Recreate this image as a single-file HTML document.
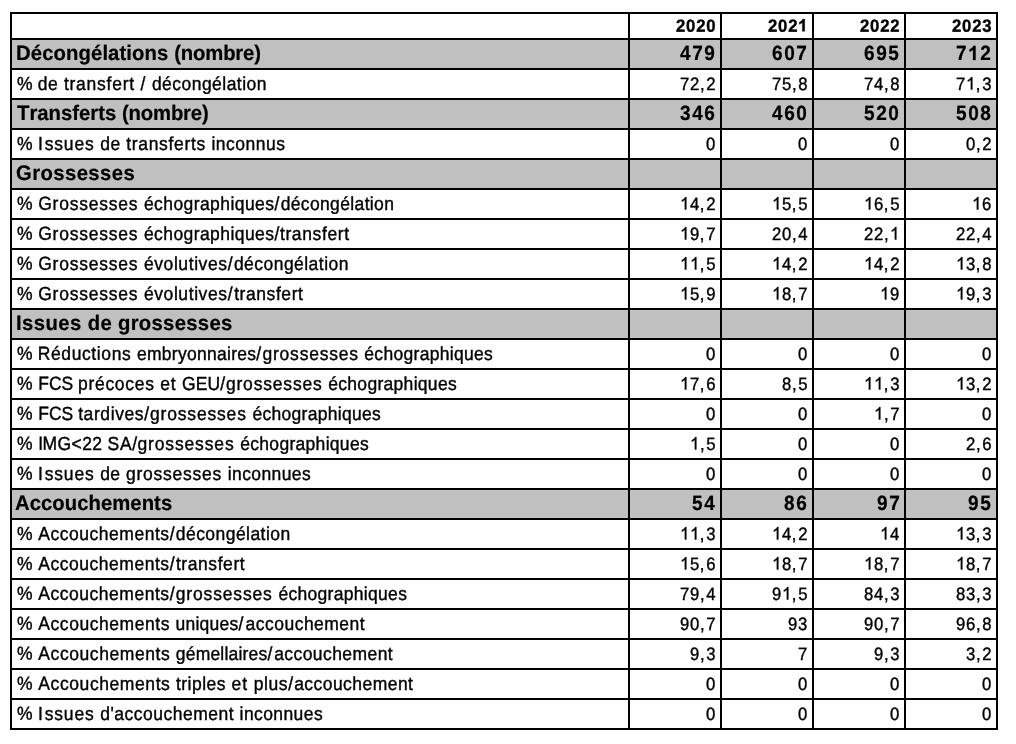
<!DOCTYPE html>
<html lang="fr"><head><meta charset="utf-8"><title>Tableau</title>
<style>
html,body{margin:0;padding:0;background:#fff;}
body{width:1016px;height:744px;position:relative;overflow:hidden;font-family:"Liberation Sans",sans-serif;color:#000;font-kerning:none;font-variant-ligatures:none;text-rendering:geometricPrecision;}
#t{will-change:transform;position:absolute;left:10px;top:12px;width:988px;height:718px;background:#000;}
.c{position:absolute;background:#fff;white-space:nowrap;overflow:hidden;}
.g{background:#c0c0c0;}
.c>span{position:absolute;top:0;display:block;white-space:nowrap;transform-origin:50% 50%;}
.l>span{left:0;}
.r>span{right:0;}
.n{font-size:16.7px;-webkit-text-stroke:0.37px #000;}
.b{font-size:20.3px;font-weight:bold;-webkit-text-stroke:0.2px #000;}
.h{font-size:16.7px;font-weight:bold;-webkit-text-stroke:0.35px #000;}
.n>span{transform:translateY(0.6px) scaleY(1.075) skewY(0.03deg);}
.b>span{transform:translateY(-0.2px) scaleY(1.034) skewY(0.03deg);}
.h>span{transform:translateY(0.5px) scaleY(1.06) skewY(0.03deg);}
.n.r>span{letter-spacing:0.65px;}
.n.l>span{font-size:17.5px;transform:translateY(-0.5px) scaleY(1.076) skewY(0.03deg);}
.b.r>span{letter-spacing:1.6px;font-size:19.0px;transform:translateY(0.5px) scaleY(1.085) skewY(0.03deg);}
.h.r>span{letter-spacing:0.84px;}
i{font-style:normal;}
svg.o{display:inline-block;vertical-align:baseline;overflow:visible;}
svg.o path{fill:#000;stroke:#000;vector-effect:non-scaling-stroke;}
</style></head><body>
<div id="t">
<div class="c h l" style="left:2px;top:2px;width:616px;height:24px;line-height:24px"></div>
<div class="c h r" style="left:620px;top:2px;width:90px;height:24px;line-height:24px"><span style="right:3.65px">2020</span></div>
<div class="c h r" style="left:712px;top:2px;width:90px;height:24px;line-height:24px"><span style="right:3.65px">202<svg class="o" width="9.288" height="11.535" viewBox="0 0 1116.7 1472" preserveAspectRatio="none" style="margin-right:0.840px"><path transform="matrix(1 0 0 -1 0 1472)" d="M806 0h-281v1059q-154 -144 -363 -213v255q110 36 239 136.5t177 234.5h228v-1472z" stroke-width="0.35"/></svg></span></div>
<div class="c h r" style="left:804px;top:2px;width:90px;height:24px;line-height:24px"><span style="right:3.67px">2022</span></div>
<div class="c h r" style="left:896px;top:2px;width:90px;height:24px;line-height:24px"><span style="right:3.73px">2023</span></div>
<div class="c b l g" style="left:2px;top:28px;width:616px;height:28px;line-height:28px"><span style="left:3.74px"><i style="letter-spacing:0.104px">Décongélations </i><i style="letter-spacing:-0.163px">(nombre)</i></span></div>
<div class="c b r g" style="left:620px;top:28px;width:90px;height:28px;line-height:28px"><span style="right:3.19px">479</span></div>
<div class="c b r g" style="left:712px;top:28px;width:90px;height:28px;line-height:28px"><span style="right:3.07px">607</span></div>
<div class="c b r g" style="left:804px;top:28px;width:90px;height:28px;line-height:28px"><span style="right:3.37px">695</span></div>
<div class="c b r g" style="left:896px;top:28px;width:90px;height:28px;line-height:28px"><span style="right:3.14px">7<svg class="o" width="10.567" height="13.124" viewBox="0 0 1116.7 1472" preserveAspectRatio="none" style="margin-right:1.600px"><path transform="matrix(1 0 0 -1 0 1472)" d="M806 0h-281v1059q-154 -144 -363 -213v255q110 36 239 136.5t177 234.5h228v-1472z" stroke-width="0.2"/></svg>2</span></div>
<div class="c n l" style="left:2px;top:58px;width:616px;height:28px;line-height:28px"><span style="left:5.06px"><i style="letter-spacing:0.108px">% </i><i style="letter-spacing:0.631px">de </i><i style="letter-spacing:0.761px">transfert </i><i style="letter-spacing:0.821px">/ </i><i style="letter-spacing:0.460px">décongélation</i></span></div>
<div class="c n r" style="left:620px;top:58px;width:90px;height:28px;line-height:28px"><span style="right:3.70px">72<i style="letter-spacing:1.65px">,</i>2</span></div>
<div class="c n r" style="left:712px;top:58px;width:90px;height:28px;line-height:28px"><span style="right:3.81px">75<i style="letter-spacing:1.65px">,</i>8</span></div>
<div class="c n r" style="left:804px;top:58px;width:90px;height:28px;line-height:28px"><span style="right:3.81px">74<i style="letter-spacing:1.65px">,</i>8</span></div>
<div class="c n r" style="left:896px;top:58px;width:90px;height:28px;line-height:28px"><span style="right:3.80px">7<svg class="o" width="9.288" height="11.535" viewBox="0 0 1116.7 1472" preserveAspectRatio="none" style="margin-right:0.650px"><path transform="matrix(1 0 0 -1 0 1472)" d="M763 0h-180v1147q-65 -62 -170.5 -124t-189.5 -93v174q151 71 264 172t160 196h116v-1472z" stroke-width="0.37"/></svg><i style="letter-spacing:1.65px">,</i>3</span></div>
<div class="c b l g" style="left:2px;top:88px;width:616px;height:28px;line-height:28px"><span style="left:4.87px"><i style="letter-spacing:0.004px">Transferts </i><i style="letter-spacing:-0.141px">(nombre)</i></span></div>
<div class="c b r g" style="left:620px;top:88px;width:90px;height:28px;line-height:28px"><span style="right:3.21px">346</span></div>
<div class="c b r g" style="left:712px;top:88px;width:90px;height:28px;line-height:28px"><span style="right:3.12px">460</span></div>
<div class="c b r g" style="left:804px;top:88px;width:90px;height:28px;line-height:28px"><span style="right:3.12px">520</span></div>
<div class="c b r g" style="left:896px;top:88px;width:90px;height:28px;line-height:28px"><span style="right:3.32px">508</span></div>
<div class="c n l" style="left:2px;top:118px;width:616px;height:28px;line-height:28px"><span style="left:5.06px"><i style="letter-spacing:0.343px">% </i><i style="letter-spacing:1.766px">I</i><i style="letter-spacing:0.804px">ssues </i><i style="letter-spacing:0.598px">de </i><i style="letter-spacing:0.672px">transferts </i><i style="letter-spacing:0.483px">inconnus</i></span></div>
<div class="c n r" style="left:620px;top:118px;width:90px;height:28px;line-height:28px"><span style="right:3.88px">0</span></div>
<div class="c n r" style="left:712px;top:118px;width:90px;height:28px;line-height:28px"><span style="right:3.88px">0</span></div>
<div class="c n r" style="left:804px;top:118px;width:90px;height:28px;line-height:28px"><span style="right:3.88px">0</span></div>
<div class="c n r" style="left:896px;top:118px;width:90px;height:28px;line-height:28px"><span style="right:3.70px">0<i style="letter-spacing:1.65px">,</i>2</span></div>
<div class="c b l g" style="left:2px;top:148px;width:616px;height:28px;line-height:28px"><span style="left:4.27px"><i style="letter-spacing:0.405px">Grossesses</i></span></div>
<div class="c b r g" style="left:620px;top:148px;width:90px;height:28px;line-height:28px"></div>
<div class="c b r g" style="left:712px;top:148px;width:90px;height:28px;line-height:28px"></div>
<div class="c b r g" style="left:804px;top:148px;width:90px;height:28px;line-height:28px"></div>
<div class="c b r g" style="left:896px;top:148px;width:90px;height:28px;line-height:28px"></div>
<div class="c n l" style="left:2px;top:178px;width:616px;height:28px;line-height:28px"><span style="left:5.06px"><i style="letter-spacing:0.411px">% </i><i style="letter-spacing:0.762px">Grossesses </i><i style="letter-spacing:0.425px">échographiques</i><i style="letter-spacing:1.403px">/</i><i style="letter-spacing:0.356px">décongélation</i></span></div>
<div class="c n r" style="left:620px;top:178px;width:90px;height:28px;line-height:28px"><span style="right:3.70px"><svg class="o" width="9.288" height="11.535" viewBox="0 0 1116.7 1472" preserveAspectRatio="none" style="margin-right:0.650px"><path transform="matrix(1 0 0 -1 0 1472)" d="M763 0h-180v1147q-65 -62 -170.5 -124t-189.5 -93v174q151 71 264 172t160 196h116v-1472z" stroke-width="0.37"/></svg>4<i style="letter-spacing:1.65px">,</i>2</span></div>
<div class="c n r" style="left:712px;top:178px;width:90px;height:28px;line-height:28px"><span style="right:3.83px"><svg class="o" width="9.288" height="11.535" viewBox="0 0 1116.7 1472" preserveAspectRatio="none" style="margin-right:0.650px"><path transform="matrix(1 0 0 -1 0 1472)" d="M763 0h-180v1147q-65 -62 -170.5 -124t-189.5 -93v174q151 71 264 172t160 196h116v-1472z" stroke-width="0.37"/></svg>5<i style="letter-spacing:1.65px">,</i>5</span></div>
<div class="c n r" style="left:804px;top:178px;width:90px;height:28px;line-height:28px"><span style="right:3.83px"><svg class="o" width="9.288" height="11.535" viewBox="0 0 1116.7 1472" preserveAspectRatio="none" style="margin-right:0.650px"><path transform="matrix(1 0 0 -1 0 1472)" d="M763 0h-180v1147q-65 -62 -170.5 -124t-189.5 -93v174q151 71 264 172t160 196h116v-1472z" stroke-width="0.37"/></svg>6<i style="letter-spacing:1.65px">,</i>5</span></div>
<div class="c n r" style="left:896px;top:178px;width:90px;height:28px;line-height:28px"><span style="right:3.80px"><svg class="o" width="9.288" height="11.535" viewBox="0 0 1116.7 1472" preserveAspectRatio="none" style="margin-right:0.650px"><path transform="matrix(1 0 0 -1 0 1472)" d="M763 0h-180v1147q-65 -62 -170.5 -124t-189.5 -93v174q151 71 264 172t160 196h116v-1472z" stroke-width="0.37"/></svg>6</span></div>
<div class="c n l" style="left:2px;top:208px;width:616px;height:28px;line-height:28px"><span style="left:5.06px"><i style="letter-spacing:0.411px">% </i><i style="letter-spacing:0.762px">Grossesses </i><i style="letter-spacing:0.425px">échographiques</i><i style="letter-spacing:0.623px">/</i><i style="letter-spacing:0.635px">transfert</i></span></div>
<div class="c n r" style="left:620px;top:208px;width:90px;height:28px;line-height:28px"><span style="right:3.70px"><svg class="o" width="9.288" height="11.535" viewBox="0 0 1116.7 1472" preserveAspectRatio="none" style="margin-right:0.650px"><path transform="matrix(1 0 0 -1 0 1472)" d="M763 0h-180v1147q-65 -62 -170.5 -124t-189.5 -93v174q151 71 264 172t160 196h116v-1472z" stroke-width="0.37"/></svg>9<i style="letter-spacing:1.65px">,</i>7</span></div>
<div class="c n r" style="left:712px;top:208px;width:90px;height:28px;line-height:28px"><span style="right:4.05px">20<i style="letter-spacing:1.65px">,</i>4</span></div>
<div class="c n r" style="left:804px;top:208px;width:90px;height:28px;line-height:28px"><span style="right:3.88px">22<i style="letter-spacing:1.65px">,</i><svg class="o" width="9.288" height="11.535" viewBox="0 0 1116.7 1472" preserveAspectRatio="none" style="margin-right:0.650px"><path transform="matrix(1 0 0 -1 0 1472)" d="M763 0h-180v1147q-65 -62 -170.5 -124t-189.5 -93v174q151 71 264 172t160 196h116v-1472z" stroke-width="0.37"/></svg></span></div>
<div class="c n r" style="left:896px;top:208px;width:90px;height:28px;line-height:28px"><span style="right:4.05px">22<i style="letter-spacing:1.65px">,</i>4</span></div>
<div class="c n l" style="left:2px;top:238px;width:616px;height:28px;line-height:28px"><span style="left:5.06px"><i style="letter-spacing:0.411px">% </i><i style="letter-spacing:0.762px">Grossesses </i><i style="letter-spacing:0.592px">évolutives</i><i style="letter-spacing:1.403px">/</i><i style="letter-spacing:0.460px">décongélation</i></span></div>
<div class="c n r" style="left:620px;top:238px;width:90px;height:28px;line-height:28px"><span style="right:3.83px"><svg class="o" width="9.288" height="11.535" viewBox="0 0 1116.7 1472" preserveAspectRatio="none" style="margin-right:0.650px"><path transform="matrix(1 0 0 -1 0 1472)" d="M763 0h-180v1147q-65 -62 -170.5 -124t-189.5 -93v174q151 71 264 172t160 196h116v-1472z" stroke-width="0.37"/></svg><svg class="o" width="9.288" height="11.535" viewBox="0 0 1116.7 1472" preserveAspectRatio="none" style="margin-right:0.650px"><path transform="matrix(1 0 0 -1 0 1472)" d="M763 0h-180v1147q-65 -62 -170.5 -124t-189.5 -93v174q151 71 264 172t160 196h116v-1472z" stroke-width="0.37"/></svg><i style="letter-spacing:1.65px">,</i>5</span></div>
<div class="c n r" style="left:712px;top:238px;width:90px;height:28px;line-height:28px"><span style="right:3.70px"><svg class="o" width="9.288" height="11.535" viewBox="0 0 1116.7 1472" preserveAspectRatio="none" style="margin-right:0.650px"><path transform="matrix(1 0 0 -1 0 1472)" d="M763 0h-180v1147q-65 -62 -170.5 -124t-189.5 -93v174q151 71 264 172t160 196h116v-1472z" stroke-width="0.37"/></svg>4<i style="letter-spacing:1.65px">,</i>2</span></div>
<div class="c n r" style="left:804px;top:238px;width:90px;height:28px;line-height:28px"><span style="right:3.70px"><svg class="o" width="9.288" height="11.535" viewBox="0 0 1116.7 1472" preserveAspectRatio="none" style="margin-right:0.650px"><path transform="matrix(1 0 0 -1 0 1472)" d="M763 0h-180v1147q-65 -62 -170.5 -124t-189.5 -93v174q151 71 264 172t160 196h116v-1472z" stroke-width="0.37"/></svg>4<i style="letter-spacing:1.65px">,</i>2</span></div>
<div class="c n r" style="left:896px;top:238px;width:90px;height:28px;line-height:28px"><span style="right:3.81px"><svg class="o" width="9.288" height="11.535" viewBox="0 0 1116.7 1472" preserveAspectRatio="none" style="margin-right:0.650px"><path transform="matrix(1 0 0 -1 0 1472)" d="M763 0h-180v1147q-65 -62 -170.5 -124t-189.5 -93v174q151 71 264 172t160 196h116v-1472z" stroke-width="0.37"/></svg>3<i style="letter-spacing:1.65px">,</i>8</span></div>
<div class="c n l" style="left:2px;top:268px;width:616px;height:28px;line-height:28px"><span style="left:5.06px"><i style="letter-spacing:0.411px">% </i><i style="letter-spacing:0.762px">Grossesses </i><i style="letter-spacing:0.592px">évolutives</i><i style="letter-spacing:1.623px">/</i><i style="letter-spacing:0.573px">transfert</i></span></div>
<div class="c n r" style="left:620px;top:268px;width:90px;height:28px;line-height:28px"><span style="right:3.74px"><svg class="o" width="9.288" height="11.535" viewBox="0 0 1116.7 1472" preserveAspectRatio="none" style="margin-right:0.650px"><path transform="matrix(1 0 0 -1 0 1472)" d="M763 0h-180v1147q-65 -62 -170.5 -124t-189.5 -93v174q151 71 264 172t160 196h116v-1472z" stroke-width="0.37"/></svg>5<i style="letter-spacing:1.65px">,</i>9</span></div>
<div class="c n r" style="left:712px;top:268px;width:90px;height:28px;line-height:28px"><span style="right:3.70px"><svg class="o" width="9.288" height="11.535" viewBox="0 0 1116.7 1472" preserveAspectRatio="none" style="margin-right:0.650px"><path transform="matrix(1 0 0 -1 0 1472)" d="M763 0h-180v1147q-65 -62 -170.5 -124t-189.5 -93v174q151 71 264 172t160 196h116v-1472z" stroke-width="0.37"/></svg>8<i style="letter-spacing:1.65px">,</i>7</span></div>
<div class="c n r" style="left:804px;top:268px;width:90px;height:28px;line-height:28px"><span style="right:3.74px"><svg class="o" width="9.288" height="11.535" viewBox="0 0 1116.7 1472" preserveAspectRatio="none" style="margin-right:0.650px"><path transform="matrix(1 0 0 -1 0 1472)" d="M763 0h-180v1147q-65 -62 -170.5 -124t-189.5 -93v174q151 71 264 172t160 196h116v-1472z" stroke-width="0.37"/></svg>9</span></div>
<div class="c n r" style="left:896px;top:268px;width:90px;height:28px;line-height:28px"><span style="right:3.80px"><svg class="o" width="9.288" height="11.535" viewBox="0 0 1116.7 1472" preserveAspectRatio="none" style="margin-right:0.650px"><path transform="matrix(1 0 0 -1 0 1472)" d="M763 0h-180v1147q-65 -62 -170.5 -124t-189.5 -93v174q151 71 264 172t160 196h116v-1472z" stroke-width="0.37"/></svg>9<i style="letter-spacing:1.65px">,</i>3</span></div>
<div class="c b l g" style="left:2px;top:298px;width:616px;height:28px;line-height:28px"><span style="left:4.24px"><i style="letter-spacing:0.419px">Issues </i><i style="letter-spacing:0.307px">de </i><i style="letter-spacing:0.304px">grossesses</i></span></div>
<div class="c b r g" style="left:620px;top:298px;width:90px;height:28px;line-height:28px"></div>
<div class="c b r g" style="left:712px;top:298px;width:90px;height:28px;line-height:28px"></div>
<div class="c b r g" style="left:804px;top:298px;width:90px;height:28px;line-height:28px"></div>
<div class="c b r g" style="left:896px;top:298px;width:90px;height:28px;line-height:28px"></div>
<div class="c n l" style="left:2px;top:328px;width:616px;height:28px;line-height:28px"><span style="left:5.06px"><i style="letter-spacing:0.133px">% </i><i style="letter-spacing:0.616px">Réductions </i><i style="letter-spacing:0.284px">embryonnaires</i><i style="letter-spacing:1.303px">/</i><i style="letter-spacing:0.766px">grossesses </i><i style="letter-spacing:0.305px">échographiques</i></span></div>
<div class="c n r" style="left:620px;top:328px;width:90px;height:28px;line-height:28px"><span style="right:3.88px">0</span></div>
<div class="c n r" style="left:712px;top:328px;width:90px;height:28px;line-height:28px"><span style="right:3.88px">0</span></div>
<div class="c n r" style="left:804px;top:328px;width:90px;height:28px;line-height:28px"><span style="right:3.88px">0</span></div>
<div class="c n r" style="left:896px;top:328px;width:90px;height:28px;line-height:28px"><span style="right:3.88px">0</span></div>
<div class="c n l" style="left:2px;top:358px;width:616px;height:28px;line-height:28px"><span style="left:5.06px"><i style="letter-spacing:0.383px">% </i><i style="letter-spacing:-0.014px">FCS </i><i style="letter-spacing:0.696px">précoces </i><i style="letter-spacing:0.802px">et </i><i style="letter-spacing:0.069px">GEU</i><i style="letter-spacing:0.903px">/</i><i style="letter-spacing:0.811px">grossesses </i><i style="letter-spacing:0.301px">échographiques</i></span></div>
<div class="c n r" style="left:620px;top:358px;width:90px;height:28px;line-height:28px"><span style="right:3.80px"><svg class="o" width="9.288" height="11.535" viewBox="0 0 1116.7 1472" preserveAspectRatio="none" style="margin-right:0.650px"><path transform="matrix(1 0 0 -1 0 1472)" d="M763 0h-180v1147q-65 -62 -170.5 -124t-189.5 -93v174q151 71 264 172t160 196h116v-1472z" stroke-width="0.37"/></svg>7<i style="letter-spacing:1.65px">,</i>6</span></div>
<div class="c n r" style="left:712px;top:358px;width:90px;height:28px;line-height:28px"><span style="right:3.83px">8<i style="letter-spacing:1.65px">,</i>5</span></div>
<div class="c n r" style="left:804px;top:358px;width:90px;height:28px;line-height:28px"><span style="right:3.80px"><svg class="o" width="9.288" height="11.535" viewBox="0 0 1116.7 1472" preserveAspectRatio="none" style="margin-right:0.650px"><path transform="matrix(1 0 0 -1 0 1472)" d="M763 0h-180v1147q-65 -62 -170.5 -124t-189.5 -93v174q151 71 264 172t160 196h116v-1472z" stroke-width="0.37"/></svg><svg class="o" width="9.288" height="11.535" viewBox="0 0 1116.7 1472" preserveAspectRatio="none" style="margin-right:0.650px"><path transform="matrix(1 0 0 -1 0 1472)" d="M763 0h-180v1147q-65 -62 -170.5 -124t-189.5 -93v174q151 71 264 172t160 196h116v-1472z" stroke-width="0.37"/></svg><i style="letter-spacing:1.65px">,</i>3</span></div>
<div class="c n r" style="left:896px;top:358px;width:90px;height:28px;line-height:28px"><span style="right:3.70px"><svg class="o" width="9.288" height="11.535" viewBox="0 0 1116.7 1472" preserveAspectRatio="none" style="margin-right:0.650px"><path transform="matrix(1 0 0 -1 0 1472)" d="M763 0h-180v1147q-65 -62 -170.5 -124t-189.5 -93v174q151 71 264 172t160 196h116v-1472z" stroke-width="0.37"/></svg>3<i style="letter-spacing:1.65px">,</i>2</span></div>
<div class="c n l" style="left:2px;top:388px;width:616px;height:28px;line-height:28px"><span style="left:5.06px"><i style="letter-spacing:0.383px">% </i><i style="letter-spacing:0.015px">FCS </i><i style="letter-spacing:0.592px">tardives</i><i style="letter-spacing:1.003px">/</i><i style="letter-spacing:0.820px">grossesses </i><i style="letter-spacing:0.286px">échographiques</i></span></div>
<div class="c n r" style="left:620px;top:388px;width:90px;height:28px;line-height:28px"><span style="right:3.88px">0</span></div>
<div class="c n r" style="left:712px;top:388px;width:90px;height:28px;line-height:28px"><span style="right:3.88px">0</span></div>
<div class="c n r" style="left:804px;top:388px;width:90px;height:28px;line-height:28px"><span style="right:3.70px"><svg class="o" width="9.288" height="11.535" viewBox="0 0 1116.7 1472" preserveAspectRatio="none" style="margin-right:0.650px"><path transform="matrix(1 0 0 -1 0 1472)" d="M763 0h-180v1147q-65 -62 -170.5 -124t-189.5 -93v174q151 71 264 172t160 196h116v-1472z" stroke-width="0.37"/></svg><i style="letter-spacing:1.65px">,</i>7</span></div>
<div class="c n r" style="left:896px;top:388px;width:90px;height:28px;line-height:28px"><span style="right:3.88px">0</span></div>
<div class="c n l" style="left:2px;top:418px;width:616px;height:28px;line-height:28px"><span style="left:5.06px"><i style="letter-spacing:0.393px">% </i><i style="letter-spacing:-0.483px">I</i><i style="letter-spacing:0.376px">MG&lt;22 </i><i style="letter-spacing:0.600px">SA</i><i style="letter-spacing:0.403px">/</i><i style="letter-spacing:0.861px">grossesses </i><i style="letter-spacing:0.297px">échographiques</i></span></div>
<div class="c n r" style="left:620px;top:418px;width:90px;height:28px;line-height:28px"><span style="right:3.83px"><svg class="o" width="9.288" height="11.535" viewBox="0 0 1116.7 1472" preserveAspectRatio="none" style="margin-right:0.650px"><path transform="matrix(1 0 0 -1 0 1472)" d="M763 0h-180v1147q-65 -62 -170.5 -124t-189.5 -93v174q151 71 264 172t160 196h116v-1472z" stroke-width="0.37"/></svg><i style="letter-spacing:1.65px">,</i>5</span></div>
<div class="c n r" style="left:712px;top:418px;width:90px;height:28px;line-height:28px"><span style="right:3.88px">0</span></div>
<div class="c n r" style="left:804px;top:418px;width:90px;height:28px;line-height:28px"><span style="right:3.88px">0</span></div>
<div class="c n r" style="left:896px;top:418px;width:90px;height:28px;line-height:28px"><span style="right:3.80px">2<i style="letter-spacing:1.65px">,</i>6</span></div>
<div class="c n l" style="left:2px;top:448px;width:616px;height:28px;line-height:28px"><span style="left:5.06px"><i style="letter-spacing:0.343px">% </i><i style="letter-spacing:1.766px">I</i><i style="letter-spacing:0.804px">ssues </i><i style="letter-spacing:0.474px">de </i><i style="letter-spacing:0.768px">grossesses </i><i style="letter-spacing:0.394px">inconnues</i></span></div>
<div class="c n r" style="left:620px;top:448px;width:90px;height:28px;line-height:28px"><span style="right:3.88px">0</span></div>
<div class="c n r" style="left:712px;top:448px;width:90px;height:28px;line-height:28px"><span style="right:3.88px">0</span></div>
<div class="c n r" style="left:804px;top:448px;width:90px;height:28px;line-height:28px"><span style="right:3.88px">0</span></div>
<div class="c n r" style="left:896px;top:448px;width:90px;height:28px;line-height:28px"><span style="right:3.88px">0</span></div>
<div class="c b l g" style="left:2px;top:478px;width:616px;height:28px;line-height:28px"><span style="left:3.49px"><i style="letter-spacing:0.044px">Accouchements</i></span></div>
<div class="c b r g" style="left:620px;top:478px;width:90px;height:28px;line-height:28px"><span style="right:3.80px">54</span></div>
<div class="c b r g" style="left:712px;top:478px;width:90px;height:28px;line-height:28px"><span style="right:3.21px">86</span></div>
<div class="c b r g" style="left:804px;top:478px;width:90px;height:28px;line-height:28px"><span style="right:3.07px">97</span></div>
<div class="c b r g" style="left:896px;top:478px;width:90px;height:28px;line-height:28px"><span style="right:3.37px">95</span></div>
<div class="c n l" style="left:2px;top:508px;width:616px;height:28px;line-height:28px"><span style="left:5.06px"><i style="letter-spacing:0.459px">% </i><i style="letter-spacing:0.521px">Accouchements</i><i style="letter-spacing:1.303px">/</i><i style="letter-spacing:0.447px">décongélation</i></span></div>
<div class="c n r" style="left:620px;top:508px;width:90px;height:28px;line-height:28px"><span style="right:3.80px"><svg class="o" width="9.288" height="11.535" viewBox="0 0 1116.7 1472" preserveAspectRatio="none" style="margin-right:0.650px"><path transform="matrix(1 0 0 -1 0 1472)" d="M763 0h-180v1147q-65 -62 -170.5 -124t-189.5 -93v174q151 71 264 172t160 196h116v-1472z" stroke-width="0.37"/></svg><svg class="o" width="9.288" height="11.535" viewBox="0 0 1116.7 1472" preserveAspectRatio="none" style="margin-right:0.650px"><path transform="matrix(1 0 0 -1 0 1472)" d="M763 0h-180v1147q-65 -62 -170.5 -124t-189.5 -93v174q151 71 264 172t160 196h116v-1472z" stroke-width="0.37"/></svg><i style="letter-spacing:1.65px">,</i>3</span></div>
<div class="c n r" style="left:712px;top:508px;width:90px;height:28px;line-height:28px"><span style="right:3.70px"><svg class="o" width="9.288" height="11.535" viewBox="0 0 1116.7 1472" preserveAspectRatio="none" style="margin-right:0.650px"><path transform="matrix(1 0 0 -1 0 1472)" d="M763 0h-180v1147q-65 -62 -170.5 -124t-189.5 -93v174q151 71 264 172t160 196h116v-1472z" stroke-width="0.37"/></svg>4<i style="letter-spacing:1.65px">,</i>2</span></div>
<div class="c n r" style="left:804px;top:508px;width:90px;height:28px;line-height:28px"><span style="right:4.05px"><svg class="o" width="9.288" height="11.535" viewBox="0 0 1116.7 1472" preserveAspectRatio="none" style="margin-right:0.650px"><path transform="matrix(1 0 0 -1 0 1472)" d="M763 0h-180v1147q-65 -62 -170.5 -124t-189.5 -93v174q151 71 264 172t160 196h116v-1472z" stroke-width="0.37"/></svg>4</span></div>
<div class="c n r" style="left:896px;top:508px;width:90px;height:28px;line-height:28px"><span style="right:3.80px"><svg class="o" width="9.288" height="11.535" viewBox="0 0 1116.7 1472" preserveAspectRatio="none" style="margin-right:0.650px"><path transform="matrix(1 0 0 -1 0 1472)" d="M763 0h-180v1147q-65 -62 -170.5 -124t-189.5 -93v174q151 71 264 172t160 196h116v-1472z" stroke-width="0.37"/></svg>3<i style="letter-spacing:1.65px">,</i>3</span></div>
<div class="c n l" style="left:2px;top:538px;width:616px;height:28px;line-height:28px"><span style="left:5.06px"><i style="letter-spacing:0.459px">% </i><i style="letter-spacing:0.521px">Accouchements</i><i style="letter-spacing:1.373px">/</i><i style="letter-spacing:0.579px">transfert</i></span></div>
<div class="c n r" style="left:620px;top:538px;width:90px;height:28px;line-height:28px"><span style="right:3.80px"><svg class="o" width="9.288" height="11.535" viewBox="0 0 1116.7 1472" preserveAspectRatio="none" style="margin-right:0.650px"><path transform="matrix(1 0 0 -1 0 1472)" d="M763 0h-180v1147q-65 -62 -170.5 -124t-189.5 -93v174q151 71 264 172t160 196h116v-1472z" stroke-width="0.37"/></svg>5<i style="letter-spacing:1.65px">,</i>6</span></div>
<div class="c n r" style="left:712px;top:538px;width:90px;height:28px;line-height:28px"><span style="right:3.70px"><svg class="o" width="9.288" height="11.535" viewBox="0 0 1116.7 1472" preserveAspectRatio="none" style="margin-right:0.650px"><path transform="matrix(1 0 0 -1 0 1472)" d="M763 0h-180v1147q-65 -62 -170.5 -124t-189.5 -93v174q151 71 264 172t160 196h116v-1472z" stroke-width="0.37"/></svg>8<i style="letter-spacing:1.65px">,</i>7</span></div>
<div class="c n r" style="left:804px;top:538px;width:90px;height:28px;line-height:28px"><span style="right:3.70px"><svg class="o" width="9.288" height="11.535" viewBox="0 0 1116.7 1472" preserveAspectRatio="none" style="margin-right:0.650px"><path transform="matrix(1 0 0 -1 0 1472)" d="M763 0h-180v1147q-65 -62 -170.5 -124t-189.5 -93v174q151 71 264 172t160 196h116v-1472z" stroke-width="0.37"/></svg>8<i style="letter-spacing:1.65px">,</i>7</span></div>
<div class="c n r" style="left:896px;top:538px;width:90px;height:28px;line-height:28px"><span style="right:3.70px"><svg class="o" width="9.288" height="11.535" viewBox="0 0 1116.7 1472" preserveAspectRatio="none" style="margin-right:0.650px"><path transform="matrix(1 0 0 -1 0 1472)" d="M763 0h-180v1147q-65 -62 -170.5 -124t-189.5 -93v174q151 71 264 172t160 196h116v-1472z" stroke-width="0.37"/></svg>8<i style="letter-spacing:1.65px">,</i>7</span></div>
<div class="c n l" style="left:2px;top:568px;width:616px;height:28px;line-height:28px"><span style="left:5.06px"><i style="letter-spacing:0.459px">% </i><i style="letter-spacing:0.521px">Accouchements</i><i style="letter-spacing:1.303px">/</i><i style="letter-spacing:0.838px">grossesses </i><i style="letter-spacing:0.305px">échographiques</i></span></div>
<div class="c n r" style="left:620px;top:568px;width:90px;height:28px;line-height:28px"><span style="right:4.05px">79<i style="letter-spacing:1.65px">,</i>4</span></div>
<div class="c n r" style="left:712px;top:568px;width:90px;height:28px;line-height:28px"><span style="right:3.83px">9<svg class="o" width="9.288" height="11.535" viewBox="0 0 1116.7 1472" preserveAspectRatio="none" style="margin-right:0.650px"><path transform="matrix(1 0 0 -1 0 1472)" d="M763 0h-180v1147q-65 -62 -170.5 -124t-189.5 -93v174q151 71 264 172t160 196h116v-1472z" stroke-width="0.37"/></svg><i style="letter-spacing:1.65px">,</i>5</span></div>
<div class="c n r" style="left:804px;top:568px;width:90px;height:28px;line-height:28px"><span style="right:3.80px">84<i style="letter-spacing:1.65px">,</i>3</span></div>
<div class="c n r" style="left:896px;top:568px;width:90px;height:28px;line-height:28px"><span style="right:3.80px">83<i style="letter-spacing:1.65px">,</i>3</span></div>
<div class="c n l" style="left:2px;top:598px;width:616px;height:28px;line-height:28px"><span style="left:5.06px"><i style="letter-spacing:0.459px">% </i><i style="letter-spacing:0.548px">Accouchements </i><i style="letter-spacing:0.262px">uniques</i><i style="letter-spacing:2.195px">/</i><i style="letter-spacing:0.476px">accouchement</i></span></div>
<div class="c n r" style="left:620px;top:598px;width:90px;height:28px;line-height:28px"><span style="right:3.70px">90<i style="letter-spacing:1.65px">,</i>7</span></div>
<div class="c n r" style="left:712px;top:598px;width:90px;height:28px;line-height:28px"><span style="right:3.80px">93</span></div>
<div class="c n r" style="left:804px;top:598px;width:90px;height:28px;line-height:28px"><span style="right:3.70px">90<i style="letter-spacing:1.65px">,</i>7</span></div>
<div class="c n r" style="left:896px;top:598px;width:90px;height:28px;line-height:28px"><span style="right:3.81px">96<i style="letter-spacing:1.65px">,</i>8</span></div>
<div class="c n l" style="left:2px;top:628px;width:616px;height:28px;line-height:28px"><span style="left:5.06px"><i style="letter-spacing:0.459px">% </i><i style="letter-spacing:0.577px">Accouchements </i><i style="letter-spacing:0.191px">gémellaires</i><i style="letter-spacing:1.895px">/</i><i style="letter-spacing:0.426px">accouchement</i></span></div>
<div class="c n r" style="left:620px;top:628px;width:90px;height:28px;line-height:28px"><span style="right:3.80px">9<i style="letter-spacing:1.65px">,</i>3</span></div>
<div class="c n r" style="left:712px;top:628px;width:90px;height:28px;line-height:28px"><span style="right:3.70px">7</span></div>
<div class="c n r" style="left:804px;top:628px;width:90px;height:28px;line-height:28px"><span style="right:3.80px">9<i style="letter-spacing:1.65px">,</i>3</span></div>
<div class="c n r" style="left:896px;top:628px;width:90px;height:28px;line-height:28px"><span style="right:3.70px">3<i style="letter-spacing:1.65px">,</i>2</span></div>
<div class="c n l" style="left:2px;top:658px;width:616px;height:28px;line-height:28px"><span style="left:5.06px"><i style="letter-spacing:0.459px">% </i><i style="letter-spacing:0.582px">Accouchements </i><i style="letter-spacing:0.510px">triples </i><i style="letter-spacing:0.920px">et </i><i style="letter-spacing:0.581px">plus</i><i style="letter-spacing:1.145px">/</i><i style="letter-spacing:0.448px">accouchement</i></span></div>
<div class="c n r" style="left:620px;top:658px;width:90px;height:28px;line-height:28px"><span style="right:3.88px">0</span></div>
<div class="c n r" style="left:712px;top:658px;width:90px;height:28px;line-height:28px"><span style="right:3.88px">0</span></div>
<div class="c n r" style="left:804px;top:658px;width:90px;height:28px;line-height:28px"><span style="right:3.88px">0</span></div>
<div class="c n r" style="left:896px;top:658px;width:90px;height:28px;line-height:28px"><span style="right:3.88px">0</span></div>
<div class="c n l" style="left:2px;top:688px;width:616px;height:28px;line-height:28px"><span style="left:5.06px"><i style="letter-spacing:0.343px">% </i><i style="letter-spacing:1.766px">I</i><i style="letter-spacing:0.804px">ssues </i><i style="letter-spacing:0.511px">d'accouchement </i><i style="letter-spacing:0.412px">inconnues</i></span></div>
<div class="c n r" style="left:620px;top:688px;width:90px;height:28px;line-height:28px"><span style="right:3.88px">0</span></div>
<div class="c n r" style="left:712px;top:688px;width:90px;height:28px;line-height:28px"><span style="right:3.88px">0</span></div>
<div class="c n r" style="left:804px;top:688px;width:90px;height:28px;line-height:28px"><span style="right:3.88px">0</span></div>
<div class="c n r" style="left:896px;top:688px;width:90px;height:28px;line-height:28px"><span style="right:3.88px">0</span></div>
</div>
</body></html>
